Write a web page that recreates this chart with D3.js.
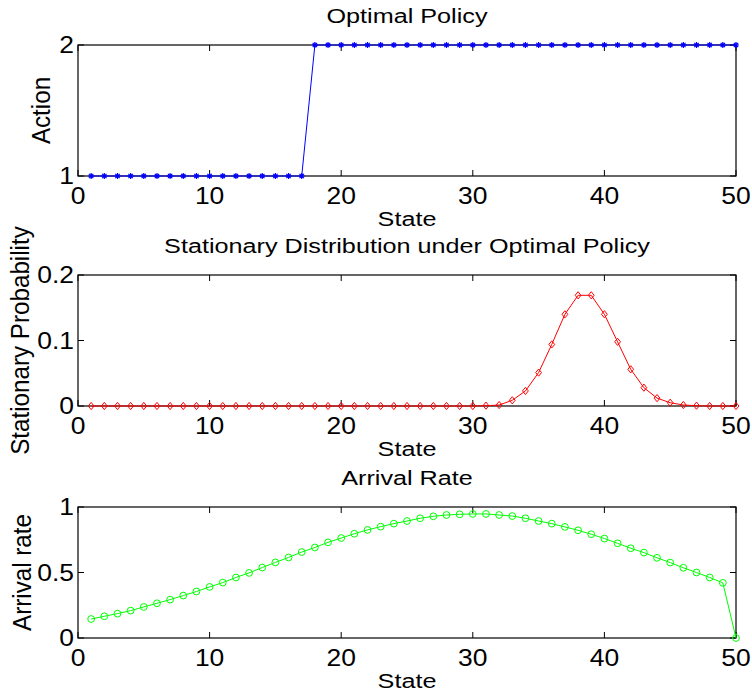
<!DOCTYPE html>
<html>
<head>
<meta charset="utf-8">
<script src="https://cdn.jsdelivr.net/npm/d3@7"></script>
<style>
  body { margin: 0; background: #fff; }
  text { font-family: "Liberation Sans", Arial, sans-serif; fill: #000; }
</style>
</head>
<body>
<div id="chart"></div>
<script>
// States 1..50
const states = d3.range(1, 51);

// Optimal policy (action per state)
const action = [
  1, 1, 1, 1, 1, 1, 1, 1, 1, 1, 1, 1, 1, 1, 1, 1, 1,
  2, 2, 2, 2, 2, 2, 2, 2, 2, 2, 2, 2, 2, 2, 2, 2, 2,
  2, 2, 2, 2, 2, 2, 2, 2, 2, 2, 2, 2, 2, 2, 2, 2
];

// Stationary distribution under optimal policy
const stationary = [
  0, 0, 0, 0, 0, 0, 0, 0, 0, 0,
  0, 0, 0, 0, 0, 0, 0, 0, 0, 0,
  0, 0, 0, 0, 0, 0, 0, 0, 0, 0,
  0.0005, 0.0015, 0.0087, 0.023, 0.051, 0.094, 0.140, 0.169, 0.169, 0.140,
  0.098, 0.056, 0.028, 0.012, 0.005, 0.0015, 0.0005, 0, 0, 0
];

// Arrival rate per state
const arrival = [
  0.145, 0.166, 0.186, 0.209, 0.237, 0.265, 0.293, 0.324, 0.355, 0.390,
  0.423, 0.462, 0.497, 0.538, 0.577, 0.615, 0.656, 0.691, 0.730, 0.763,
  0.796, 0.825, 0.850, 0.873, 0.893, 0.914, 0.929, 0.939, 0.944, 0.947,
  0.947, 0.939, 0.931, 0.914, 0.893, 0.873, 0.848, 0.822, 0.792, 0.759,
  0.723, 0.685, 0.652, 0.612, 0.576, 0.536, 0.500, 0.462, 0.421, 0
];

const xTicks = [0, 10, 20, 30, 40, 50];

const panels = [
  { title: "Optimal Policy", ylabel: "Action", values: action,
    yDomain: [1, 2], yTicks: [1, 2], yFmt: d3.format("d"),
    color: "#0000ff", marker: "star", top: 45, labelX: 50 },
  { title: "Stationary Distribution under Optimal Policy", ylabel: "Stationary Probability",
    values: stationary, yDomain: [0, 0.2], yTicks: [0, 0.1, 0.2], yFmt: (d) => d === 0 ? "0" : d3.format(".1f")(d),
    color: "#ff0000", marker: "diamond", top: 275, labelX: 29 },
  { title: "Arrival Rate", ylabel: "Arrival rate", values: arrival,
    yDomain: [0, 1], yTicks: [0, 0.5, 1], yFmt: (d) => d === 0.5 ? "0.5" : d3.format("d")(d),
    color: "#00ff00", marker: "circle", top: 507, labelX: 31 }
];

const W = 752, H = 696;
const left = 78, right = 736, plotH = 131;
const stretch = 1.15; // the saved figure text is a bit wider than Arial

const svg = d3.select("#chart").append("svg")
  .attr("width", W).attr("height", H);

const x = d3.scaleLinear().domain([0, 50]).range([left, right]);

// horizontally stretched text helper
function label(g, tx, ty, str, size, anchor, sx) {
  return g.append("text")
    .attr("transform", `translate(${tx},${ty}) scale(${sx},1)`)
    .attr("text-anchor", anchor).attr("font-size", size).text(str);
}

panels.forEach((p) => {
  const y = d3.scaleLinear().domain(p.yDomain).range([p.top + plotH, p.top]);
  const g = svg.append("g");
  const tickLen = 6;

  // Box
  g.append("rect")
    .attr("x", left).attr("y", p.top)
    .attr("width", right - left).attr("height", plotH)
    .attr("fill", "none").attr("stroke", "#000").attr("stroke-width", 1.2);

  // X ticks (inside, bottom and top)
  xTicks.forEach((t) => {
    g.append("line").attr("x1", x(t)).attr("x2", x(t))
      .attr("y1", p.top + plotH).attr("y2", p.top + plotH - tickLen)
      .attr("stroke", "#000");
    g.append("line").attr("x1", x(t)).attr("x2", x(t))
      .attr("y1", p.top).attr("y2", p.top + tickLen)
      .attr("stroke", "#000");
    label(g, x(t), p.top + plotH + 28, t, 23, "middle", stretch);
  });

  // Y ticks (inside, left and right)
  p.yTicks.forEach((t) => {
    g.append("line").attr("x1", left).attr("x2", left + tickLen)
      .attr("y1", y(t)).attr("y2", y(t)).attr("stroke", "#000");
    g.append("line").attr("x1", right).attr("x2", right - tickLen)
      .attr("y1", y(t)).attr("y2", y(t)).attr("stroke", "#000");
    label(g, left - 4, y(t) + 8, p.yFmt(t), 23, "end", stretch);
  });

  // Title, labels
  label(g, (left + right) / 2, p.top - 22, p.title, 21, "middle", 1.2);
  label(g, (left + right) / 2, p.top + plotH + 50, "State", 21, "middle", 1.2);
  g.append("text")
    .attr("transform", `translate(${p.labelX},${p.top + plotH / 2}) rotate(-90) scale(1.1,1.15)`)
    .attr("text-anchor", "middle").attr("font-size", 22).text(p.ylabel);

  const pts = states.map((s, i) => [s, p.values[i]]);

  // Line
  g.append("path").datum(pts)
    .attr("fill", "none").attr("stroke", p.color).attr("stroke-width", 1)
    .attr("d", d3.line().x((d) => x(d[0])).y((d) => y(d[1])));

  // Markers
  const m = g.selectAll(".m").data(pts).enter().append("g")
    .attr("transform", (d) => `translate(${x(d[0])},${y(d[1])})`);
  if (p.marker === "star") {
    m.append("path").attr("d", "M-3,0H3M0,-3V3M-2.2,-2.2L2.2,2.2M-2.2,2.2L2.2,-2.2")
      .attr("stroke", p.color).attr("stroke-width", 1.2);
  } else if (p.marker === "diamond") {
    m.append("path").attr("d", "M0,-3.6L2.9,0L0,3.6L-2.9,0Z")
      .attr("fill", "none").attr("stroke", p.color).attr("stroke-width", 1);
  } else {
    m.append("circle").attr("r", 3.4)
      .attr("fill", "none").attr("stroke", p.color).attr("stroke-width", 1);
  }
});
</script>
</body>
</html>
